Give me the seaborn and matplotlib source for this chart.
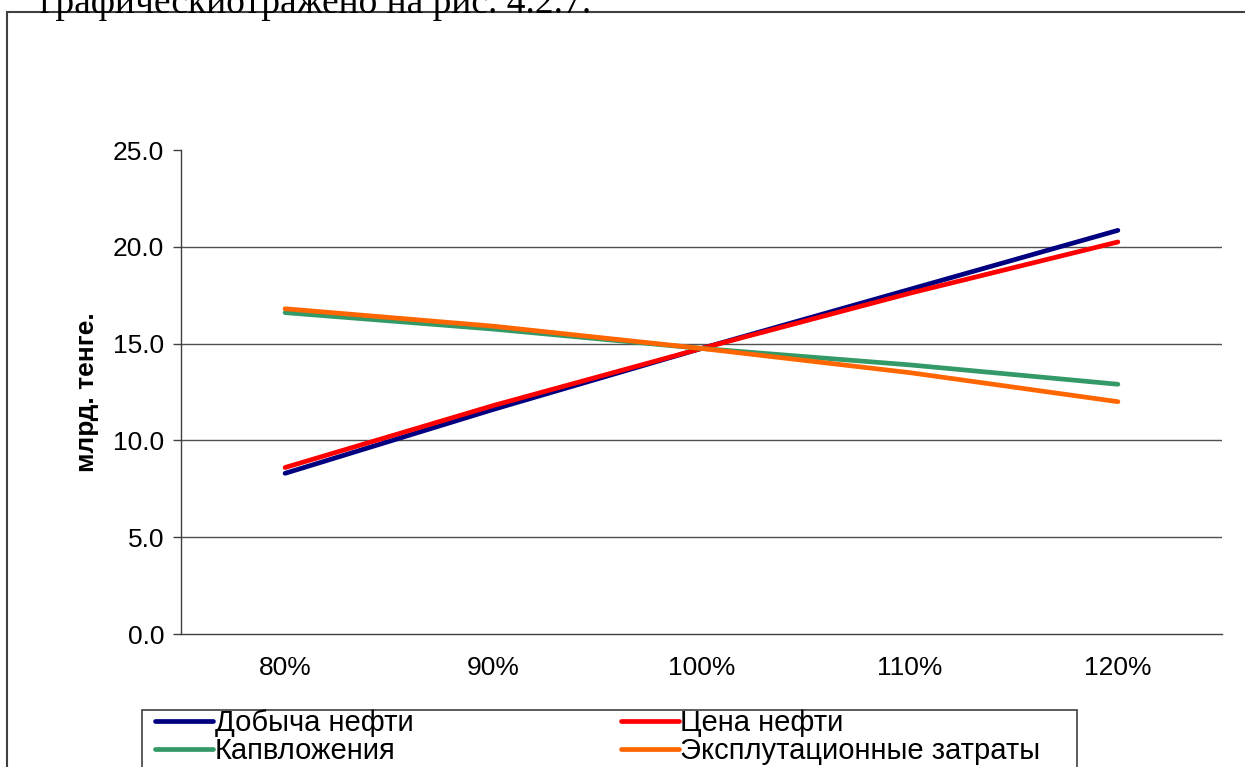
"""Sensitivity chart: NPV vs parameter change (recreated)."""

import pandas as pd
import seaborn as sns
import matplotlib.pyplot as plt
from matplotlib.patches import Rectangle

# Data
levels = ['80%', '90%', '100%', '110%', '120%']
dobycha = [8.3, 11.6, 14.75, 17.8, 20.85]
cena = [8.6, 11.8, 14.75, 17.6, 20.25]
kapvl = [16.6, 15.75, 14.75, 13.9, 12.9]
expl = [16.8, 15.9, 14.75, 13.5, 12.0]
series_names = ['Добыча нефти', 'Цена нефти', 'Капвложения', 'Эксплутационные затраты']
colors = ['#000080', '#FF0000', '#339966', '#FF6600']

df = pd.DataFrame({'level': levels * 4,
                   'value': dobycha + cena + kapvl + expl,
                   'series': [s for s in series_names for _ in levels]})
df['pos'] = [i for _ in series_names for i in range(len(levels))]

sns.set_style('white')
plt.rcParams['font.family'] = ['Liberation Sans', 'DejaVu Sans']
plt.rcParams['text.color'] = 'black'
plt.rcParams['xtick.color'] = 'black'
plt.rcParams['ytick.color'] = 'black'
plt.rcParams['axes.labelcolor'] = 'black'

W, H = 1245, 767
fig = plt.figure(figsize=(W / 100, H / 100), dpi=100)
ax = fig.add_axes([181 / W, 1 - 634 / H, (1222 - 181) / W, (634 - 150) / H])

sns.lineplot(data=df, x='pos', y='value', hue='series', hue_order=series_names,
             palette=colors, linewidth=3.4, ax=ax, legend=False,
             solid_capstyle='round')

ax.set_xlim(-0.5, 4.5)
ax.set_ylim(0, 25)
ax.set_yticks([0, 5, 10, 15, 20, 25])
ax.set_yticklabels(['0.0', '5.0', '10.0', '15.0', '20.0', '25.0'], fontsize=19)
ax.set_xticks(range(5))
ax.set_xticklabels(levels, fontsize=19)
ax.set_xticks([x - 0.5 for x in range(6)], minor=True)
ax.tick_params(axis='x', which='major', length=0, pad=16)
ax.tick_params(axis='x', which='minor', length=6, width=1, color='#404040', direction='out')
ax.tick_params(axis='y', length=6, width=1, color='#404040', direction='out', pad=6, left=True)
ax.set_xlabel('')
ax.set_ylabel('млрд. тенге.', fontsize=19, fontweight='bold', labelpad=10)

for v in [5, 10, 15, 20]:
    ax.axhline(v, color='#505050', lw=1, zorder=0)

ax.spines['top'].set_visible(False)
ax.spines['right'].set_visible(False)
ax.spines['left'].set_color('#404040')
ax.spines['bottom'].set_color('#404040')
ax.spines['left'].set_linewidth(1)
ax.spines['bottom'].set_linewidth(1)

# Legend, row-major order; its box runs past the bottom edge
order = [0, 2, 1, 3]
handles = [plt.Line2D([], [], color=colors[i], lw=3.4, solid_capstyle='round') for i in order]
labels = [series_names[i] for i in order]
fig.legend(handles, labels, loc='upper left', ncol=2,
           bbox_to_anchor=(155 / W, 1 - 709 / H), frameon=False, borderpad=0,
           handlelength=2.0, handletextpad=0.05, labelspacing=0.0,
           columnspacing=7.1, borderaxespad=0, prop={'size': 21})
fig.patches.append(Rectangle((142 / W, -0.1), (1077 - 142) / W, 0.1 + 1 - 710 / H,
                             transform=fig.transFigure, fill=False,
                             edgecolor='#404040', lw=1.2))

# Outer chart frame
fig.patches.append(Rectangle((7 / W, -0.1), 1.2, 1 - 12 / H + 0.1, transform=fig.transFigure,
                             fill=False, edgecolor='#404040', lw=1.5))

# Partial document text above the chart
fig.text(40 / W, 1 - 13 / H, 'графическиотражено на рис. 4.2.7.',
         fontsize=27, family='Liberation Serif', va='baseline', ha='left')

fig.savefig('out.png', dpi=100)
